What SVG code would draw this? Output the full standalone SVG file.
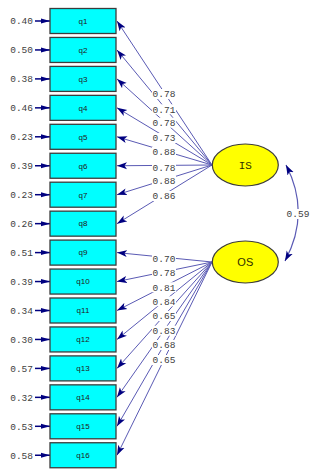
<svg xmlns="http://www.w3.org/2000/svg" width="311" height="472" viewBox="0 0 311 472">
<defs>
<marker id="ah" markerUnits="userSpaceOnUse" markerWidth="10" markerHeight="8" refX="10" refY="4" orient="auto-start-reverse" viewBox="0 0 10 8">
<path d="M0,0.5 L10,4 L0,7.5 L2.5,4 z" fill="#000080"/>
</marker>
<marker id="eh" markerUnits="userSpaceOnUse" markerWidth="9" markerHeight="6" refX="9" refY="3" orient="auto" viewBox="0 0 9 6">
<path d="M0,0.5 L9,3 L0,5.5 z" fill="#000080"/>
</marker>
</defs>
<style>
.box{fill:#00ffff;stroke:#3c3c3c;stroke-width:1.3}
.lat{fill:#ffff00;stroke:#3c3c3c;stroke-width:1.2}
.bt{font-family:"Liberation Sans",Arial,sans-serif;font-size:8px;fill:#202020;text-anchor:middle}
.num{font-family:"Liberation Mono","Courier New",monospace;font-size:9.5px;fill:#404040}
.lbl{text-anchor:middle}
.err{text-anchor:end}
.ld{stroke:#5a5ab4;stroke-width:1;fill:none;marker-end:url(#ah)}
.ea{stroke:#000080;stroke-width:1.5;marker-end:url(#eh)}
.bg{fill:#ffffff}
.lt{font-size:11px;fill:#303000;text-anchor:middle}
</style>
<rect width="311" height="472" fill="#ffffff"/>
<g id="connectors">
<path class="ld" d="M212,165 L117,21"/>
<path class="ld" d="M212,165 L117,49.95"/>
<path class="ld" d="M212,165 L117,78.9"/>
<path class="ld" d="M212,165 L117,107.85"/>
<path class="ld" d="M212,165 L117,136.8"/>
<path class="ld" d="M212,165 L117,165.75"/>
<path class="ld" d="M212,165 L117,194.7"/>
<path class="ld" d="M212,165 L117,223.65"/>
<path class="ld" d="M212,262 L117,252.6"/>
<path class="ld" d="M212,262 L117,281.55"/>
<path class="ld" d="M212,262 L117,310.5"/>
<path class="ld" d="M212,262 L117,339.45"/>
<path class="ld" d="M212,262 L117,368.4"/>
<path class="ld" d="M212,262 L117,397.35"/>
<path class="ld" d="M212,262 L117,426.3"/>
<path class="ld" d="M212,262 L117,455.25"/>
<path d="M286,165 Q311,213 285,261" fill="none" stroke="#5a5ab4" stroke-width="1.2" marker-start="url(#ah)" marker-end="url(#ah)"/>
<line class="ea" x1="35" y1="21" x2="50" y2="21"/>
<line class="ea" x1="35" y1="49.95" x2="50" y2="49.95"/>
<line class="ea" x1="35" y1="78.9" x2="50" y2="78.9"/>
<line class="ea" x1="35" y1="107.85" x2="50" y2="107.85"/>
<line class="ea" x1="35" y1="136.8" x2="50" y2="136.8"/>
<line class="ea" x1="35" y1="165.75" x2="50" y2="165.75"/>
<line class="ea" x1="35" y1="194.7" x2="50" y2="194.7"/>
<line class="ea" x1="35" y1="223.65" x2="50" y2="223.65"/>
<line class="ea" x1="35" y1="252.6" x2="50" y2="252.6"/>
<line class="ea" x1="35" y1="281.55" x2="50" y2="281.55"/>
<line class="ea" x1="35" y1="310.5" x2="50" y2="310.5"/>
<line class="ea" x1="35" y1="339.45" x2="50" y2="339.45"/>
<line class="ea" x1="35" y1="368.4" x2="50" y2="368.4"/>
<line class="ea" x1="35" y1="397.35" x2="50" y2="397.35"/>
<line class="ea" x1="35" y1="426.3" x2="50" y2="426.3"/>
<line class="ea" x1="35" y1="455.25" x2="50" y2="455.25"/>
</g>
<g id="loading-labels" class="num">
<rect class="bg" x="152" y="89" width="24" height="10"/>
<rect class="bg" x="152" y="104.3" width="24" height="10"/>
<rect class="bg" x="152" y="117.7" width="24" height="10"/>
<rect class="bg" x="152" y="133" width="24" height="10"/>
<rect class="bg" x="152" y="147" width="24" height="10"/>
<rect class="bg" x="152" y="162.3" width="24" height="10"/>
<rect class="bg" x="152" y="175.3" width="24" height="10"/>
<rect class="bg" x="152" y="191" width="24" height="10"/>
<rect class="bg" x="152" y="253.7" width="24" height="10"/>
<rect class="bg" x="152" y="267.7" width="24" height="10"/>
<rect class="bg" x="152" y="282.3" width="24" height="10"/>
<rect class="bg" x="152" y="296.3" width="24" height="10"/>
<rect class="bg" x="152" y="311" width="24" height="10"/>
<rect class="bg" x="152" y="325.7" width="24" height="10"/>
<rect class="bg" x="152" y="340" width="24" height="10"/>
<rect class="bg" x="152" y="355" width="24" height="10"/>
<rect class="bg" x="286" y="209" width="24" height="10"/>
<text class="lbl" x="164" y="97.3">0.78</text>
<text class="lbl" x="164" y="112.6">0.71</text>
<text class="lbl" x="164" y="126">0.78</text>
<text class="lbl" x="164" y="141.3">0.73</text>
<text class="lbl" x="164" y="155.3">0.88</text>
<text class="lbl" x="164" y="170.6">0.78</text>
<text class="lbl" x="164" y="183.6">0.88</text>
<text class="lbl" x="164" y="199.3">0.86</text>
<text class="lbl" x="164" y="262">0.70</text>
<text class="lbl" x="164" y="276">0.78</text>
<text class="lbl" x="164" y="290.6">0.81</text>
<text class="lbl" x="164" y="304.6">0.84</text>
<text class="lbl" x="164" y="319.3">0.65</text>
<text class="lbl" x="164" y="334">0.83</text>
<text class="lbl" x="164" y="348.3">0.68</text>
<text class="lbl" x="164" y="363.3">0.65</text>
<text class="lbl" x="298" y="217.3">0.59</text>
</g>
<g id="error-labels" class="num">
<text class="err" x="33" y="24.3">0.40</text>
<text class="err" x="33" y="53.2">0.50</text>
<text class="err" x="33" y="82.2">0.38</text>
<text class="err" x="33" y="111.1">0.46</text>
<text class="err" x="33" y="140.1">0.23</text>
<text class="err" x="33" y="169">0.39</text>
<text class="err" x="33" y="198">0.23</text>
<text class="err" x="33" y="226.9">0.26</text>
<text class="err" x="33" y="255.9">0.51</text>
<text class="err" x="33" y="284.8">0.39</text>
<text class="err" x="33" y="313.8">0.34</text>
<text class="err" x="33" y="342.7">0.30</text>
<text class="err" x="33" y="371.7">0.57</text>
<text class="err" x="33" y="400.6">0.32</text>
<text class="err" x="33" y="429.6">0.53</text>
<text class="err" x="33" y="458.5">0.58</text>
</g>
<g id="q1"><rect class="box" x="50" y="8.5" width="66" height="25"/><text class="bt" x="83" y="23.8">q1</text></g>
<g id="q2"><rect class="box" x="50" y="37.45" width="66" height="25"/><text class="bt" x="83" y="52.75">q2</text></g>
<g id="q3"><rect class="box" x="50" y="66.4" width="66" height="25"/><text class="bt" x="83" y="81.7">q3</text></g>
<g id="q4"><rect class="box" x="50" y="95.35" width="66" height="25"/><text class="bt" x="83" y="110.65">q4</text></g>
<g id="q5"><rect class="box" x="50" y="124.3" width="66" height="25"/><text class="bt" x="83" y="139.6">q5</text></g>
<g id="q6"><rect class="box" x="50" y="153.25" width="66" height="25"/><text class="bt" x="83" y="168.55">q6</text></g>
<g id="q7"><rect class="box" x="50" y="182.2" width="66" height="25"/><text class="bt" x="83" y="197.5">q7</text></g>
<g id="q8"><rect class="box" x="50" y="211.15" width="66" height="25"/><text class="bt" x="83" y="226.45">q8</text></g>
<g id="q9"><rect class="box" x="50" y="240.1" width="66" height="25"/><text class="bt" x="83" y="255.4">q9</text></g>
<g id="q10"><rect class="box" x="50" y="269.05" width="66" height="25"/><text class="bt" x="83" y="284.35">q10</text></g>
<g id="q11"><rect class="box" x="50" y="298" width="66" height="25"/><text class="bt" x="83" y="313.3">q11</text></g>
<g id="q12"><rect class="box" x="50" y="326.95" width="66" height="25"/><text class="bt" x="83" y="342.25">q12</text></g>
<g id="q13"><rect class="box" x="50" y="355.9" width="66" height="25"/><text class="bt" x="83" y="371.2">q13</text></g>
<g id="q14"><rect class="box" x="50" y="384.85" width="66" height="25"/><text class="bt" x="83" y="400.15">q14</text></g>
<g id="q15"><rect class="box" x="50" y="413.8" width="66" height="25"/><text class="bt" x="83" y="429.1">q15</text></g>
<g id="q16"><rect class="box" x="50" y="442.75" width="66" height="25"/><text class="bt" x="83" y="458.05">q16</text></g>
<g id="IS"><ellipse class="lat" cx="245.3" cy="165" rx="33" ry="21"/><text class="lt" x="245.3" y="168.8" font-family="Liberation Mono, Courier New, monospace">IS</text></g>
<g id="OS"><ellipse class="lat" cx="245.3" cy="262" rx="33" ry="21"/><text class="lt" x="245.3" y="265.8" font-family="Liberation Sans, Arial, sans-serif">OS</text></g>
</svg>
